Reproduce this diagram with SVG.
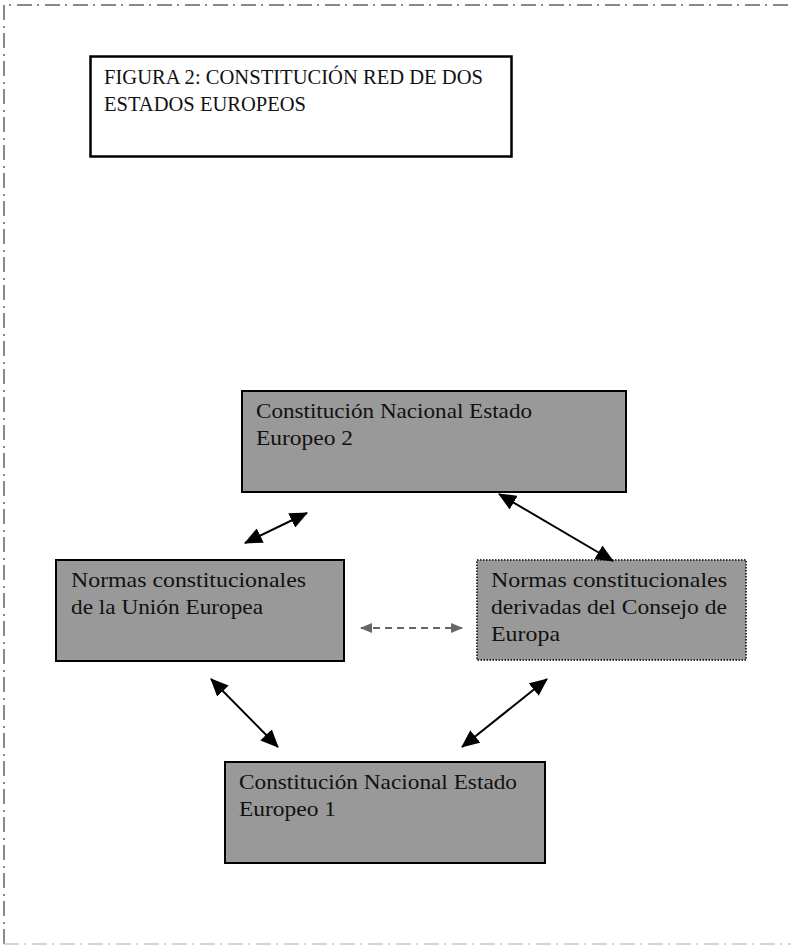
<svg xmlns="http://www.w3.org/2000/svg" width="791" height="946" viewBox="0 0 791 946">
<style>
.frame{fill:none;stroke:#8a8a8a;stroke-width:2;stroke-dasharray:15 5 2 6}
.frameb{fill:none;stroke:#c8c8c8;stroke-width:1.5;stroke-dasharray:15 5 2 6}
.box{fill:#999999;stroke:#000;stroke-width:2}
.dotbox{fill:#999999;stroke:#333;stroke-width:2;stroke-dasharray:1.5 1.5}
.title{fill:#fff;stroke:#000;stroke-width:2.5}
text{font-family:"Liberation Serif","DejaVu Serif",serif;font-size:21px;fill:#111}
.c{stroke:#000;stroke-width:2;fill:none;marker-start:url(#ah);marker-end:url(#ah)}
.d{stroke:#666;stroke-width:2;fill:none;stroke-dasharray:7 5;marker-start:url(#ahg);marker-end:url(#ahg)}
</style>
<defs>
<marker id="ah" viewBox="0 0 18 16" refX="17" refY="8" markerWidth="9" markerHeight="8" markerUnits="strokeWidth" orient="auto-start-reverse">
<path d="M0,0 L18,8 L0,16 z" fill="#000"/>
</marker>
<marker id="ahg" viewBox="0 0 12 10" refX="11" refY="5" markerWidth="6" markerHeight="5" markerUnits="strokeWidth" orient="auto-start-reverse">
<path d="M0,0 L12,5 L0,10 z" fill="#666"/>
</marker>
</defs>
<rect width="791" height="946" fill="#fff"/>
<path class="frame" d="M4,944 V5 H791"/>
<path class="frameb" d="M4,944 H791"/>
<g id="title">
<rect class="title" x="90.5" y="56.5" width="421" height="100"/>
<text x="104" y="84" textLength="379" lengthAdjust="spacingAndGlyphs">FIGURA 2: CONSTITUCIÓN RED DE DOS</text>
<text x="104" y="111" textLength="202" lengthAdjust="spacingAndGlyphs">ESTADOS EUROPEOS</text>
</g>
<g id="ce2">
<rect class="box" x="242" y="391" width="384" height="101"/>
<text x="256" y="418" textLength="276" lengthAdjust="spacingAndGlyphs">Constitución Nacional Estado</text>
<text x="256" y="445" textLength="97" lengthAdjust="spacingAndGlyphs">Europeo 2</text>
</g>
<g id="nue">
<rect class="box" x="56" y="560" width="288" height="101"/>
<text x="71" y="587" textLength="235" lengthAdjust="spacingAndGlyphs">Normas constitucionales</text>
<text x="71" y="614" textLength="192" lengthAdjust="spacingAndGlyphs">de la Unión Europea</text>
</g>
<g id="nce">
<rect class="dotbox" x="477" y="560" width="269" height="100"/>
<text x="491" y="587" textLength="236" lengthAdjust="spacingAndGlyphs">Normas constitucionales</text>
<text x="491" y="614" textLength="236" lengthAdjust="spacingAndGlyphs">derivadas del Consejo de</text>
<text x="491" y="641" textLength="69" lengthAdjust="spacingAndGlyphs">Europa</text>
</g>
<g id="ce1">
<rect class="box" x="225" y="762" width="320" height="101"/>
<text x="239" y="789" textLength="278" lengthAdjust="spacingAndGlyphs">Constitución Nacional Estado</text>
<text x="239" y="816" textLength="97" lengthAdjust="spacingAndGlyphs">Europeo 1</text>
</g>
<g id="connectors">
<line class="c" x1="245" y1="543" x2="307" y2="513"/>
<line class="c" x1="499" y1="494" x2="613" y2="561"/>
<line class="d" x1="361" y1="628" x2="462" y2="628"/>
<line class="c" x1="211" y1="679" x2="278" y2="747"/>
<line class="c" x1="547" y1="679" x2="462" y2="747"/>
</g>
</svg>
